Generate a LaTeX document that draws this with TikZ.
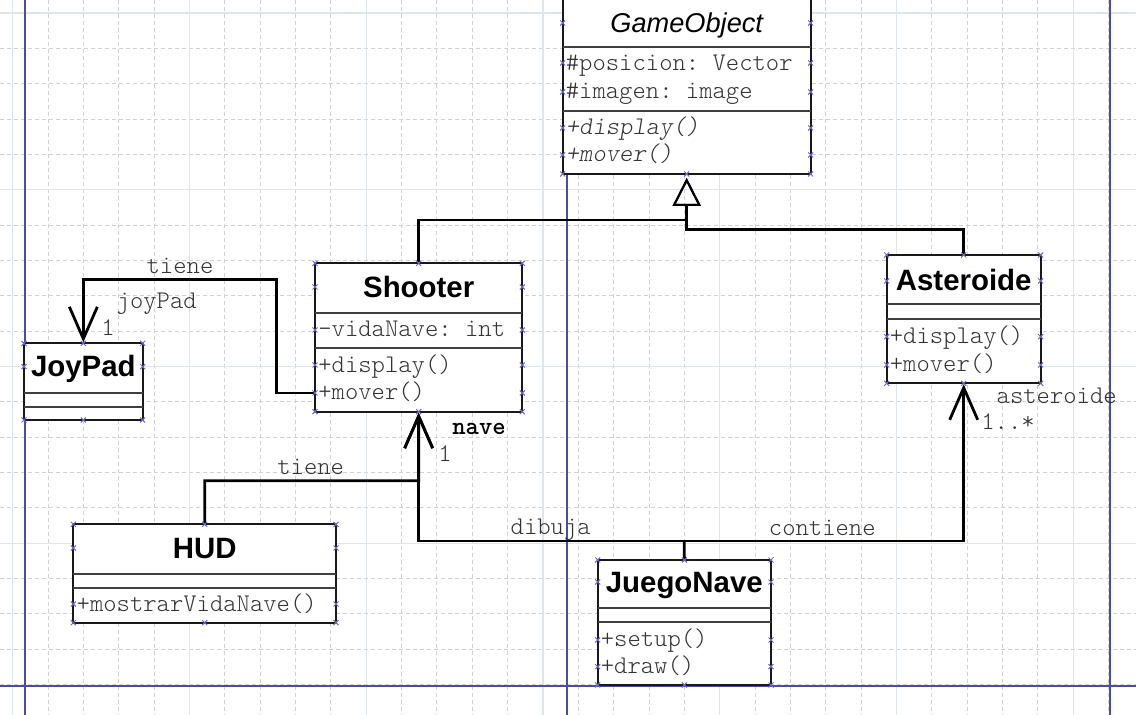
\documentclass[tikz,border=0pt]{standalone}
\usepackage{fontspec}
\setmainfont{Liberation Sans}
\setmonofont{lmmonolt10-regular.otf}[BoldFont=lmmonolt10-bold.otf, ItalicFont=lmmonolt10-oblique.otf]
\usetikzlibrary{fit,calc,arrows.meta}

\definecolor{gridsolid}{HTML}{DEE5EB}
\definecolor{griddash}{HTML}{D2D2D2}
\definecolor{pageblue}{HTML}{4B4BA8}
\definecolor{handleblue}{HTML}{6A6AD8}

\tikzset{
  umlbox/.style={draw=black!90, line width=1pt, fill=white, inner sep=0pt},
  divider/.style={draw=black!75, line width=1pt},
  clsname/.style={inner sep=0pt, text height=0.84em, text depth=0pt,
                  font=\fontsize{14.7}{17}\selectfont\bfseries},
  member/.style={inner sep=0pt, anchor=west, text=black!80, text height=0.86em, text depth=0.2em,
                 font=\fontsize{12.7}{15}\selectfont\ttfamily},
  lbl/.style={member, anchor=center},
  assoc/.style={line width=1.4pt, -{Straight Barb[length=16pt,width=14pt]}},
  inherit/.style={line width=1.4pt, -{Triangle[open,length=14pt,width=14pt,line width=1pt]}},
  handle/.style={draw=handleblue, line width=0.5pt},
}

% box + two compartment lines: name/left/top/right/bottom/div1/div2
\newcommand{\umlclass}[7]{%
  \node[umlbox, fit={(#2,#3) (#4,#5)}] (#1) {};
  \draw[divider] (#2,#6) -- (#4,#6);
  \draw[divider] (#2,#7) -- (#4,#7);
}
% little connection marks on both sides
\newcommand{\umlhandles}[3]{%
  \foreach \hy in {#3} {
    \draw[handle] (#1,\hy) +(-2.5,-2.5) -- +(2.5,2.5) +(-2.5,2.5) -- +(2.5,-2.5);
    \draw[handle] (#2,\hy) +(-2.5,-2.5) -- +(2.5,2.5) +(-2.5,2.5) -- +(2.5,-2.5);
  }}

\begin{document}
\begin{tikzpicture}[x=0.5pt, y=-0.5pt]
\clip (0,0) rectangle (1136,715);
\fill[white] (0,0) rectangle (1136,715);

% grid
\foreach \k in {0,...,32} \draw[griddash, line width=0.5pt, dash pattern=on 2pt off 1.5pt] ({12.7+35.35*\k},0) -- ({12.7+35.35*\k},715);
\foreach \k in {0,...,19} \draw[griddash, line width=0.5pt, dash pattern=on 2pt off 1.5pt] (0,{13+35.35*\k}) -- (1136,{13+35.35*\k});
\foreach \k in {0,5,...,30} \draw[gridsolid, line width=0.6pt] ({12.7+35.35*\k},0) -- ({12.7+35.35*\k},715);
\foreach \k in {0,5,...,15} \draw[gridsolid, line width=0.6pt] (0,{13+35.35*\k}) -- (1136,{13+35.35*\k});
% page borders
\foreach \px in {25,567,1109.5} \draw[pageblue, line width=1pt] (\px,0) -- (\px,715);
\draw[pageblue, line width=1pt] (0,686.5) -- (1136,686.5);

% classes
\umlclass{gameobject}{562.7}{-2.7}{810.7}{174}{46.7}{110.7}
\umlclass{shooter}{315}{263.3}{522.3}{411.7}{312.7}{348.3}
\umlclass{joypad}{24}{343.3}{142.7}{420}{393.3}{406.7}
\umlclass{asteroide}{886.7}{255}{1040.7}{383.3}{304.3}{319.3}
\umlclass{hud}{73.3}{524.3}{336}{622.7}{574.3}{587.7}
\umlclass{juegonave}{597.7}{560}{771}{685}{608.3}{622.3}

\node[clsname, font=\fontsize{13.6}{16}\selectfont\itshape] (gameobject-n) at (686.7,24) {GameObject};
\node[member] (gameobject-a1) at (565.5,63.5) {\#posicion: Vector};
\node[member] (gameobject-a2) at (565.5,92) {\#imagen: image};
\node[member, font=\fontsize{12.7}{15}\selectfont\ttfamily\itshape] (gameobject-m1) at (565.5,128) {+display()};
\node[member, font=\fontsize{12.7}{15}\selectfont\ttfamily\itshape] (gameobject-m2) at (565.5,155) {+mover()};

\node[clsname] (shooter-n) at (418.7,289) {Shooter};
\node[member] (shooter-a1) at (318,329.5) {-vidaNave: int};
\node[member] (shooter-m1) at (318,366) {+display()};
\node[member] (shooter-m2) at (318,393) {+mover()};

\node[clsname] (joypad-n) at (83.3,368) {JoyPad};

\node[clsname] (asteroide-n) at (963.7,282.5) {Asteroide};
\node[member] (asteroide-m1) at (889.5,336.7) {+display()};
\node[member] (asteroide-m2) at (889.5,365) {+mover()};

\node[clsname] (hud-n) at (204.7,550) {HUD};
\node[member] (hud-m1) at (76.3,605) {+mostrarVidaNave()};

\node[clsname] (juegonave-n) at (684.3,584) {JuegoNave};
\node[member] (juegonave-m1) at (600.5,639.5) {+setup()};
\node[member] (juegonave-m2) at (600.5,666.7) {+draw()};

% inheritance
\coordinate (gen) at ([yshift=-1.5pt]gameobject.south);
\coordinate (genleft) at (686.7,220);
\coordinate (genright) at (686.7,229.3);
\draw[inherit] (shooter.north) |- (genleft) -- (gen);
\draw[inherit] (asteroide.north) |- (genright) -- (gen);

% associations
\coordinate (joybend) at (276.7,279.3);
\draw[assoc] (shooter.west |- shooter-m2) -| (joybend) -| (joypad.north);
\coordinate (hudjoin) at (418.7,480.7);
\draw[assoc] (hud.north) |- (hudjoin) -- (shooter.south);
\coordinate (bus) at (684.3,541);
\draw[line width=1.4pt] (juegonave.north) -- (bus);
\draw[assoc] (bus) -| (shooter.south);
\draw[assoc] (bus) -| (asteroide.south);

\node[lbl] (tiene-joy) at (180,267) {tiene};
\node[lbl] (joypad-role) at (156.7,302) {joyPad};
\node[lbl] (joypad-mult) at (108,329) {1};
\node[lbl] (tiene-hud) at (310.7,467.5) {tiene};
\node[lbl, text=black, font=\fontsize{12.7}{15}\selectfont\ttfamily\bfseries] (nave-role) at (479,427.5) {nave};
\node[lbl] (nave-mult) at (445,455) {1};
\node[lbl] (dibuja) at (550.7,528) {dibuja};
\node[lbl] (contiene) at (822.3,529) {contiene};
\node[lbl] (asteroide-role) at (1056.7,397) {asteroide};
\node[lbl] (asteroide-mult) at (1008,423.3) {1..*};

% connection marks
\umlhandles{562.7}{810.7}{-2.7,23,63,92,128,155,174}
\umlhandles{315}{522.3}{263.3,287,330,365,393,411.7}
\umlhandles{24}{142.7}{343.3,366.7,420}
\umlhandles{886.7}{1040.7}{255,281,336.7,365,383.3}
\umlhandles{73.3}{336}{524.3,548,604,622.7}
\umlhandles{597.7}{771}{560,582,640,666.7,685}
\foreach \hx/\hy in {686.7/-2.7, 686.7/174, 418.7/263.3, 418.7/411.7, 83.3/343.3, 83.3/420,
                     963.7/255, 963.7/383.3, 204.7/524.3, 204.7/622.7, 684.3/560, 684.3/685}
  \draw[handle] (\hx,\hy) +(-2.5,-2.5) -- +(2.5,2.5) +(-2.5,2.5) -- +(2.5,-2.5);
\end{tikzpicture}
\end{document}
